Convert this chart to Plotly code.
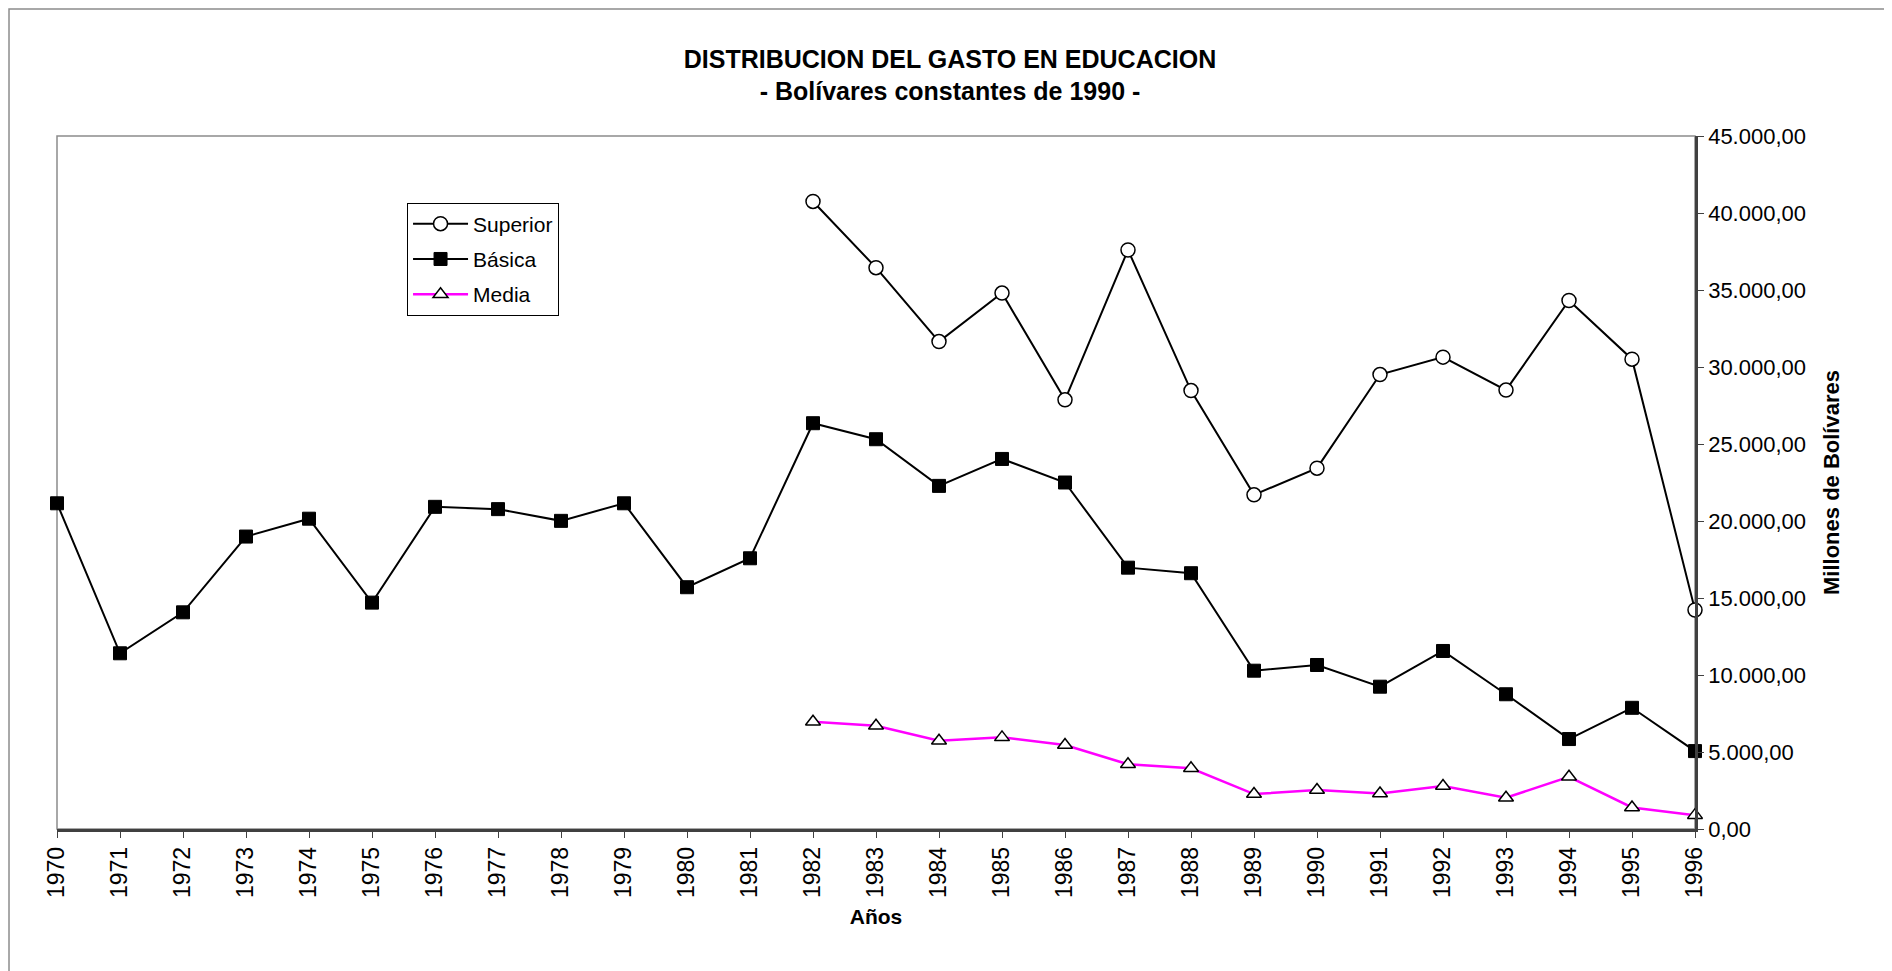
"""
Distribución del gasto en educación (1970-1996), bolívares constantes de 1990.
"""
import plotly.graph_objects as go

FONT = "Liberation Sans, Arial, sans-serif"
AXIS_DARK = "#404040"
FRAME = "#8c8c8c"
MAGENTA = "#FF00FF"

years = list(range(1970, 1997))

# millones de bolívares; Superior y Media solo desde 1982
superior = [None] * 12 + [
    40750, 36450, 31650, 34800, 27870, 37600, 28470,
    21700, 23430, 29510, 30640, 28500, 34320, 30510, 14220,
]
basica = [
    21150, 11410, 14070, 18990, 20150, 14700, 20920, 20770, 20010, 21150,
    15700, 17580, 26350, 25310, 22280, 24030, 22500, 16970, 16610,
    10280, 10650, 9240, 11560, 8750, 5840, 7870, 5060,
]
media = [None] * 12 + [
    6960, 6710, 5730, 5950, 5450, 4200, 3940,
    2270, 2530, 2310, 2790, 2030, 3390, 1400, 900,
]

fig = go.Figure()

fig.add_trace(go.Scatter(
    x=years, y=superior, name="Superior", legendgroup="sup",
    mode="lines+markers", cliponaxis=False,
    line=dict(color="black", width=2),
    marker=dict(symbol="circle", size=14, color="white",
                line=dict(color="black", width=1.5)),
))
fig.add_trace(go.Scatter(
    x=years, y=basica, name="Básica", legendgroup="bas",
    mode="lines+markers", cliponaxis=False,
    line=dict(color="black", width=2),
    marker=dict(symbol="square", size=13, color="black",
                line=dict(color="black", width=1)),
))
fig.add_trace(go.Scatter(
    x=years, y=media, name="Media", legendgroup="med",
    mode="lines+markers", cliponaxis=False,
    line=dict(color=MAGENTA, width=2.5),
    marker=dict(symbol="triangle-up", size=13, color="white",
                line=dict(color="black", width=1.5)),
))

# marco gris del área de trazado y borde exterior del gráfico
fig.add_shape(type="rect", xref="paper", yref="paper", x0=0, x1=1, y0=0, y1=1,
              line=dict(color=FRAME, width=1.5), layer="below")
fig.add_shape(type="rect", xref="paper", yref="paper",
              x0=-0.0293, x1=1.1178, y0=-0.25, y1=1.1833,
              line=dict(color=FRAME, width=1.5))

fig.update_layout(
    # the page body adds an 8px offset, so the figure is 8px smaller
    width=1884, height=963, autosize=False,
    margin=dict(l=49, r=197, t=128, b=142),
    paper_bgcolor="white", plot_bgcolor="white",
    font=dict(family=FONT, size=20, color="black"),
    separators=",.",
    title=dict(
        text="<b>DISTRIBUCION DEL GASTO EN EDUCACION</b><br><b>- Bolívares constantes de 1990 -</b>",
        font=dict(family=FONT, size=25, color="black"),
        x=0.5, xref="container", xanchor="center",
        y=1 - 59.5 / 963, yref="container", yanchor="top",
    ),
    xaxis=dict(
        range=[1970, 1996], tickvals=years, tickangle=-90,
        ticks="outside", ticklen=6, tickcolor=AXIS_DARK,
        showline=True, linecolor=AXIS_DARK, linewidth=2.5,
        showgrid=False, zeroline=False,
        tickfont=dict(size=23),
        title=dict(text="<b>Años</b>", font=dict(size=21), standoff=13),
    ),
    yaxis=dict(
        side="right", range=[0, 45000], dtick=5000, tickformat=",.2f",
        ticks="outside", ticklen=6, tickcolor=AXIS_DARK,
        showline=True, linecolor=AXIS_DARK, linewidth=2.5,
        showgrid=False, zeroline=False,
        tickfont=dict(size=22),
        title=dict(text="<b>Millones de Bolívares</b>", font=dict(size=22), standoff=19),
    ),
    legend=dict(
        x=0.2137, y=0.904, xanchor="left", yanchor="top",
        bgcolor="white", bordercolor="black", borderwidth=1,
        font=dict(size=21), itemwidth=55, tracegroupgap=5,
        traceorder="grouped",
    ),
    showlegend=True,
)

fig.write_html("out.html")
